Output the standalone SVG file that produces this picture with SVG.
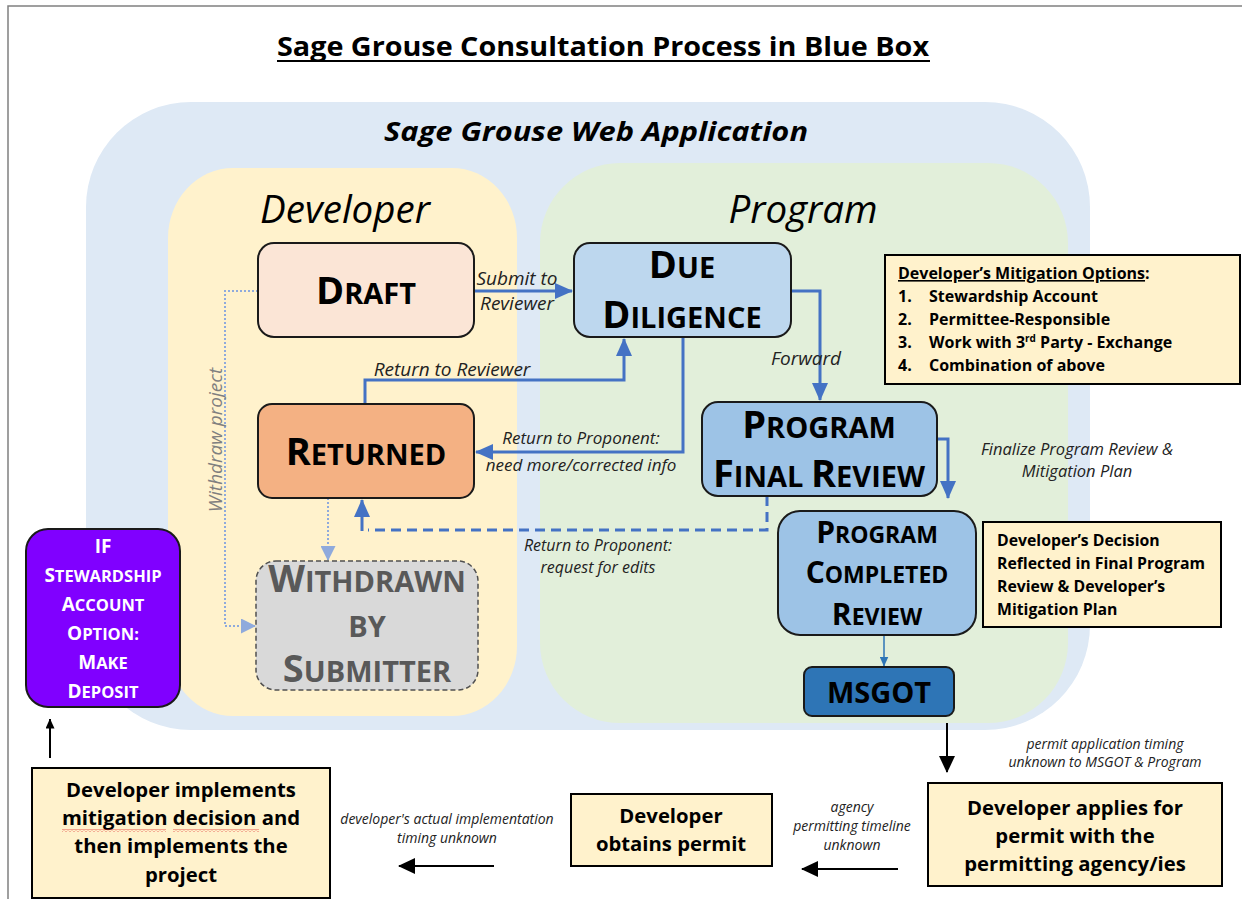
<svg xmlns="http://www.w3.org/2000/svg" width="1242" height="899" viewBox="0 0 1242 899">
<style>
.f{font-family:'Open Sans','Liberation Sans',sans-serif}
.nl{font-family:'Open Sans','Liberation Sans',sans-serif;font-weight:bold;font-size:29px;text-anchor:middle;fill:#000}
.nl .b{font-size:38px}
.sl{font-family:'Open Sans','Liberation Sans',sans-serif;font-weight:bold;font-size:23px;text-anchor:middle;fill:#000}
.sl .b{font-size:30px}
.pl{font-family:'Open Sans','Liberation Sans',sans-serif;font-weight:bold;font-size:16.5px;text-anchor:middle;fill:#fff}
.pl .b{font-size:19px}
.lab{font-family:'Open Sans','Liberation Sans',sans-serif;font-style:italic;fill:#222;text-anchor:middle}
.bx{font-family:'Open Sans','Liberation Sans',sans-serif;font-weight:bold;font-size:20.3px;text-anchor:middle;fill:#000}
.note{fill:#FFF2CC;stroke:#000;stroke-width:2}
.node{stroke:#1a1a1a;stroke-width:2}
.blue{fill:none;stroke:#4472C4;stroke-width:3}
.dot{fill:none;stroke:#8FAADC;stroke-width:2;stroke-dasharray:2 2}
.blk{fill:none;stroke:#000;stroke-width:2}
</style>
<defs>
<marker id="ab" viewBox="0 0 18 16" markerWidth="18" markerHeight="16" refX="17" refY="8" orient="auto" markerUnits="userSpaceOnUse"><path d="M0,0 L18,8 L0,16 z" fill="#4472C4"/></marker>
<marker id="as" viewBox="0 0 10 9" markerWidth="10" markerHeight="9" refX="9.5" refY="4.5" orient="auto" markerUnits="userSpaceOnUse"><path d="M0,0 L10,4.5 L0,9 z" fill="#2E75B6"/></marker>
<marker id="al" viewBox="0 0 15 15" markerWidth="15" markerHeight="15" refX="14" refY="7.5" orient="auto" markerUnits="userSpaceOnUse"><path d="M0,0 L15,7.5 L0,15 z" fill="#8FAADC"/></marker>
<marker id="ak" viewBox="0 0 17 16" markerWidth="17" markerHeight="16" refX="16" refY="8" orient="auto" markerUnits="userSpaceOnUse"><path d="M0,0 L17,8 L0,16 z" fill="#000"/></marker>
<marker id="aks" viewBox="0 0 10 9" markerWidth="10" markerHeight="9" refX="9.5" refY="4.5" orient="auto" markerUnits="userSpaceOnUse"><path d="M0,0 L10,4.5 L0,9 z" fill="#000"/></marker>
<pattern id="sq" width="4" height="3" patternUnits="userSpaceOnUse"><path d="M0,2.5 L2,0.5 L4,2.5" stroke="#E03030" fill="none" stroke-width="0.8"/></pattern>
</defs>
<rect width="1242" height="899" fill="#fff"/>
<path d="M8,899 V6 H1242" fill="none" stroke="#808080" stroke-width="1.5"/>

<g id="title">
<text class="f" x="603" y="56" font-size="27" font-weight="bold" text-anchor="middle" textLength="652" lengthAdjust="spacingAndGlyphs">Sage Grouse Consultation Process in Blue Box</text>
<line x1="277" y1="61" x2="930" y2="61" stroke="#000" stroke-width="2"/>
</g>

<g id="regions">
<rect id="web-app" x="86" y="102" width="1004" height="628" rx="105" ry="105" fill="#DEE9F5"/>
<rect id="developer-lane" x="168" y="168" width="349" height="548" rx="65" ry="70" fill="#FFF2CC"/>
<rect id="program-lane" x="540" y="163" width="528" height="560" rx="80" ry="80" fill="#E2EFDA"/>
<text class="f" x="596" y="141" font-size="27" font-weight="bold" font-style="italic" text-anchor="middle" textLength="424" lengthAdjust="spacingAndGlyphs">Sage Grouse Web Application</text>
<text class="f" x="345" y="223" font-size="38.5" font-style="italic" text-anchor="middle">Developer</text>
<text class="f" x="803" y="223" font-size="38.5" font-style="italic" text-anchor="middle">Program</text>
</g>

<g id="connectors">
<path class="blue" d="M474,291 H572" marker-end="url(#ab)"/>
<path class="blue" d="M365,404 V380 H624 V339" marker-end="url(#ab)"/>
<path class="blue" d="M683,337 V452 H476" marker-end="url(#ab)"/>
<path class="blue" d="M791,291 H820 V400" marker-end="url(#ab)"/>
<path class="blue" d="M937,439 H948 V498" marker-end="url(#ab)"/>
<path class="blue" d="M767,496 V530 H368" stroke-dasharray="10 6"/>
<path class="blue" d="M362,531 V500" marker-end="url(#ab)"/>
<path fill="none" stroke="#2E75B6" stroke-width="1.5" d="M884,635 V666" marker-end="url(#as)"/>
<path class="dot" d="M258,291 H225 V626 H255" marker-end="url(#al)"/>
<path class="dot" d="M328,498 V560" marker-end="url(#al)"/>
<path class="blk" d="M947,723 V772" marker-end="url(#ak)"/>
<path class="blk" d="M898,869 H802" marker-end="url(#ak)"/>
<path class="blk" d="M494,866 H399" marker-end="url(#ak)"/>
<path class="blk" d="M50,758 V719" marker-end="url(#aks)"/>
<text class="lab" x="517" y="285" font-size="19">Submit to</text>
<text class="lab" x="517" y="310" font-size="19">Reviewer</text>
<text class="lab" x="452" y="376" font-size="19">Return to Reviewer</text>
<text class="lab" x="581" y="444" font-size="17">Return to Proponent:</text>
<text class="lab" x="581" y="471" font-size="17">need more/corrected info</text>
<text class="lab" x="806" y="365" font-size="19">Forward</text>
<text class="lab" x="1077" y="455" font-size="16.5">Finalize Program Review &amp;</text>
<text class="lab" x="1077" y="477" font-size="16.5">Mitigation Plan</text>
<text class="lab" x="598" y="551" font-size="16">Return to Proponent:</text>
<text class="lab" x="598" y="573" font-size="16">request for edits</text>
<text class="lab" transform="translate(222,440) rotate(-90)" font-size="19" style="fill:#7F7F7F">Withdraw project</text>
<text class="lab" x="1105" y="749" font-size="14">permit application timing</text>
<text class="lab" x="1105" y="767" font-size="14">unknown to MSGOT &amp; Program</text>
<text class="lab" x="852" y="812" font-size="14">agency</text>
<text class="lab" x="852" y="831" font-size="14">permitting timeline</text>
<text class="lab" x="852" y="850" font-size="14">unknown</text>
<text class="lab" x="447" y="824" font-size="14">developer's actual implementation</text>
<text class="lab" x="447" y="843" font-size="14">timing unknown</text>
</g>

<g id="draft">
<rect class="node" x="258" y="243" width="216" height="94" rx="16" fill="#FBE5D6"/>
<text class="nl" x="366" y="304"><tspan class="b">D</tspan>RAFT</text>
</g>
<g id="due-diligence">
<rect class="node" x="574" y="243" width="217" height="94" rx="16" fill="#BDD7EE"/>
<text class="nl" x="682" y="278"><tspan class="b">D</tspan>UE</text>
<text class="nl" x="682" y="328"><tspan class="b">D</tspan>ILIGENCE</text>
</g>
<g id="returned">
<rect class="node" x="258" y="404" width="216" height="94" rx="14" fill="#F4B183"/>
<text class="nl" x="366" y="465"><tspan class="b">R</tspan>ETURNED</text>
</g>
<g id="program-final-review">
<rect class="node" x="702" y="402" width="235" height="94" rx="16" fill="#9DC3E6"/>
<text class="nl" x="819" y="438"><tspan class="b">P</tspan>ROGRAM</text>
<text class="nl" x="819" y="487"><tspan class="b">F</tspan>INAL <tspan class="b">R</tspan>EVIEW</text>
</g>
<g id="program-completed-review">
<rect class="node" x="778" y="511" width="198" height="124" rx="22" fill="#9DC3E6"/>
<text class="sl" x="877" y="543"><tspan class="b">P</tspan>ROGRAM</text>
<text class="sl" x="877" y="583"><tspan class="b">C</tspan>OMPLETED</text>
<text class="sl" x="877" y="625"><tspan class="b">R</tspan>EVIEW</text>
</g>
<g id="msgot">
<rect class="node" x="804" y="667" width="150" height="49" rx="8" fill="#2E75B6"/>
<text class="f" x="879" y="703" font-size="29" font-weight="bold" text-anchor="middle">MSGOT</text>
</g>
<g id="withdrawn">
<rect x="256" y="561" width="222" height="129" rx="20" fill="#D9D9D9" stroke="#505050" stroke-width="1.5" stroke-dasharray="5 3"/>
<text class="nl" x="367" y="592" style="fill:#595959"><tspan class="b">W</tspan>ITHDRAWN</text>
<text class="nl" x="367" y="637" style="fill:#595959">BY</text>
<text class="nl" x="367" y="682" style="fill:#595959"><tspan class="b">S</tspan>UBMITTER</text>
</g>
<g id="stewardship-deposit">
<rect class="node" x="26" y="529" width="154" height="178" rx="22" fill="#8000FF"/>
<text class="pl" x="103" y="553"><tspan class="b">IF</tspan></text>
<text class="pl" x="103" y="582"><tspan class="b">S</tspan>TEWARDSHIP</text>
<text class="pl" x="103" y="611"><tspan class="b">A</tspan>CCOUNT</text>
<text class="pl" x="103" y="640"><tspan class="b">O</tspan>PTION:</text>
<text class="pl" x="103" y="669"><tspan class="b">M</tspan>AKE</text>
<text class="pl" x="103" y="698"><tspan class="b">D</tspan>EPOSIT</text>
</g>
<g id="mitigation-options">
<rect class="note" x="885" y="255" width="355" height="129"/>
<text class="f" x="898" y="279" font-size="16" font-weight="bold"><tspan text-decoration="underline">Developer’s Mitigation Options</tspan>:</text>
<text class="f" font-size="16" font-weight="bold">
<tspan x="898" y="302">1.</tspan><tspan x="929" y="302">Stewardship Account</tspan>
<tspan x="898" y="325">2.</tspan><tspan x="929" y="325">Permittee-Responsible</tspan>
<tspan x="898" y="348">3.</tspan><tspan x="929" y="348">Work with 3</tspan><tspan font-size="10" dy="-6">rd</tspan><tspan dy="6"> Party - Exchange</tspan>
<tspan x="898" y="371">4.</tspan><tspan x="929" y="371">Combination of above</tspan>
</text>
</g>
<g id="decision-note">
<rect class="note" x="983" y="522" width="238" height="105"/>
<text class="f" font-size="15.8" font-weight="bold">
<tspan x="997" y="546">Developer’s Decision</tspan>
<tspan x="997" y="569">Reflected in Final Program</tspan>
<tspan x="997" y="592">Review &amp; Developer’s</tspan>
<tspan x="997" y="615">Mitigation Plan</tspan>
</text>
</g>
<g id="applies-permit">
<rect class="note" x="928" y="783" width="294" height="103" stroke-width="1.5"/>
<text class="bx" x="1075" y="815">Developer applies for</text>
<text class="bx" x="1075" y="843">permit with the</text>
<text class="bx" x="1075" y="871">permitting agency/ies</text>
</g>
<g id="obtains-permit">
<rect class="note" x="571" y="794" width="201" height="72" stroke-width="1.5"/>
<text class="bx" x="671" y="823">Developer</text>
<text class="bx" x="671" y="851">obtains permit</text>
</g>
<g id="implements">
<rect class="note" x="32" y="768" width="298" height="130" stroke-width="1.5"/>
<text class="bx" x="181" y="797">Developer implements</text>
<text class="bx" x="181" y="825">mitigation decision and</text>
<text class="bx" x="181" y="853">then implements the</text>
<text class="bx" x="181" y="882">project</text>
<rect x="62" y="829" width="104" height="3" fill="url(#sq)"/>
<rect x="173" y="829" width="86" height="3" fill="url(#sq)"/>
</g>
</svg>
